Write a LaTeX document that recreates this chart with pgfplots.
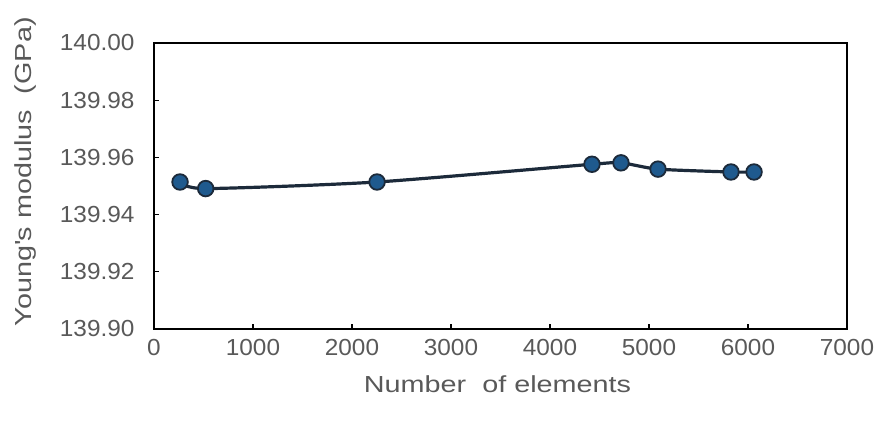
\documentclass[border=0pt]{standalone}
\usepackage{fontspec}
\setmainfont{Liberation Sans}
\newfontfamily\tickfont[FakeStretch=1.05]{Liberation Sans}
\newfontfamily\labelfont[FakeStretch=1.24]{Liberation Sans}
\usepackage{pgfplots}
\pgfplotsset{compat=1.18}
\definecolor{txtgray}{HTML}{595959}
\definecolor{linecol}{HTML}{1C2A3A}
\definecolor{markfill}{HTML}{1F5A8E}
\begin{document}
\begin{tikzpicture}
\begin{axis}[
  scale only axis,
  width=693bp, height=286bp,
  xmin=0, xmax=7000, ymin=139.90, ymax=140.00,
  xtick={0,1000,2000,3000,4000,5000,6000,7000},
  ytick={139.90,139.92,139.94,139.96,139.98,140.00},
  xtick pos=bottom, ytick pos=left,
  tick align=inside,
  major tick length=5bp,
  axis line style={black, line width=1.3bp},
  every tick/.style={black, line width=1.2bp},
  /pgf/number format/assume math mode=true,
  xticklabel style={/pgf/number format/1000 sep={}, font=\tickfont\fontsize{23.3}{27}\selectfont, text=txtgray, yshift=-7bp},
  yticklabel style={/pgf/number format/fixed, /pgf/number format/fixed zerofill, /pgf/number format/precision=2, font=\tickfont\fontsize{23.3}{27}\selectfont, text=txtgray, xshift=-16bp},
  scaled y ticks=false,
  xlabel={Number\ \ of elements},
  ylabel={Young\textquotesingle s modulus\ \ (GPa)},
  xlabel style={at={(axis description cs:0.4957,-0.1923)}, anchor=center, font=\labelfont\fontsize{23.3}{27}\selectfont, text=txtgray},
  ylabel style={at={(axis description cs:-0.1861,0.55)}, anchor=center, font=\labelfont\fontsize{23.3}{27}\selectfont, text=txtgray},
]
\addplot[linecol, line width=3.2bp, smooth, tension=0.4,
  mark=*, mark size=7.8bp,
  mark options={fill=markfill, draw=linecol, line width=1.8bp}]
coordinates {
(263,139.9514)
(522,139.9491)
(2253,139.9514)
(4424,139.9576)
(4717,139.9581)
(5091,139.9559)
(5828,139.9549)
(6061,139.9549)
};
\end{axis}
\path[use as bounding box] (-154bp,-94bp) rectangle (726bp,329bp);
\end{tikzpicture}
\end{document}
